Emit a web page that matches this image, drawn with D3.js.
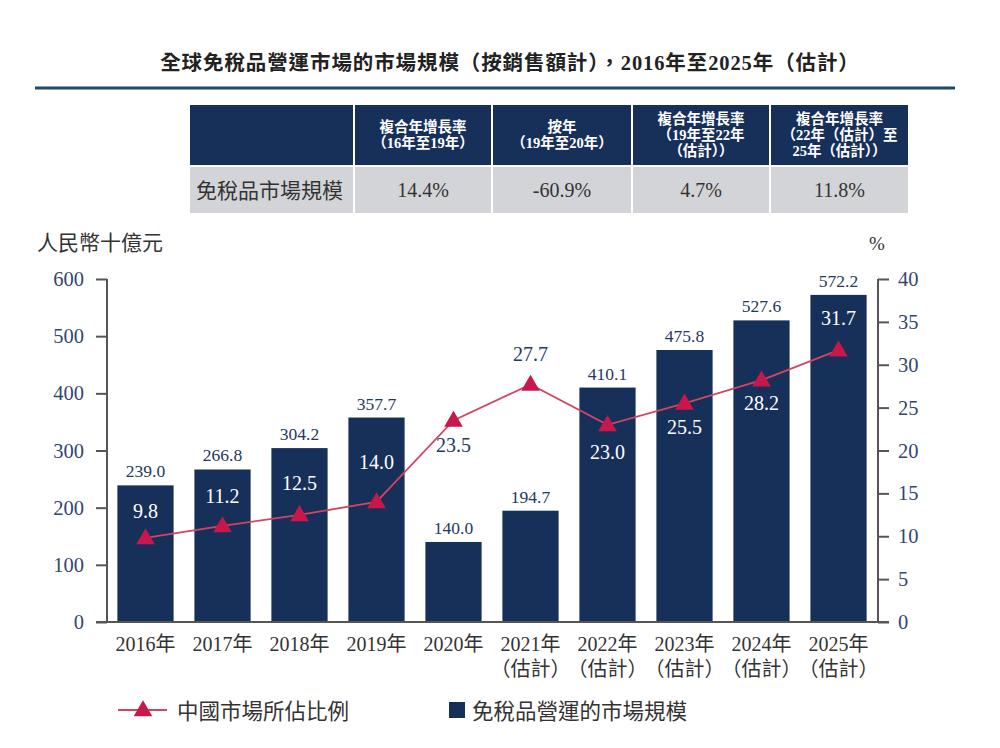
<!DOCTYPE html>
<html><head><meta charset="utf-8">
<script src="https://cdn.jsdelivr.net/npm/d3@7"></script>
<style>
body{margin:0;background:#fff;}
svg{display:block;}
</style></head>
<body>
<svg id="chart" width="1000" height="748"></svg>
<script>
const title = "全球免稅品營運市場的市場規模（按銷售額計），2016年至2025年（估計）";
const years = ["2016年","2017年","2018年","2019年","2020年","2021年","2022年","2023年","2024年","2025年"];
const yearSub = ["","","","","","（估計）","（估計）","（估計）","（估計）","（估計）"];
const marketSize = [239.0,266.8,304.2,357.7,140.0,194.7,410.1,475.8,527.6,572.2];
const chinaShare = [9.8,11.2,12.5,14.0,23.5,27.7,23.0,25.5,28.2,31.7];
const leftTicks = [0,100,200,300,400,500,600];
const rightTicks = [0,5,10,15,20,25,30,35,40];
const tableHeaders = [["複合年增長率","（16年至19年）"],["按年","（19年至20年）"],["複合年增長率","（19年至22年","（估計））"],["複合年增長率","（22年（估計）至","25年（估計））"]];
const tableRowLabel = "免稅品市場規模";
const tableValues = ["14.4%","-60.9%","4.7%","11.8%"];
const leftUnit = "人民幣十億元";
const rightUnit = "%";
const legendLine = "中國市場所佔比例";
const legendBar = "免稅品營運的市場規模";

// layout config (not data): vertical offset of each share label from its marker
const labelOffset = [-27,-30,-32,-40,25,-30,27,24,23,-32];

const NAVY = "#17305a", SERIF = "'Liberation Serif','Times New Roman',serif";
const FONT = "'Liberation Serif','Noto Sans CJK TC',serif";
const svg = d3.select("#chart");

// title
svg.append("text").attr("x",510).attr("y",70).attr("text-anchor","middle")
  .attr("font-family",FONT).attr("font-weight","bold").attr("font-size",20.5).attr("letter-spacing",0.9)
  .attr("fill","#222").text(title);
svg.append("line").attr("x1",35).attr("x2",955).attr("y1",88).attr("y2",88).attr("stroke","#1f4a6a").attr("stroke-width",3);

// table
const colX = [190,355,493,633,771,910];
const gap = 2;
svg.append("rect").attr("x",colX[0]).attr("y",105).attr("width",colX[1]-colX[0]-gap).attr("height",60).attr("fill",NAVY);
tableHeaders.forEach((h,i)=>{
  const x0 = colX[i+1], x1 = colX[i+2]-gap;
  svg.append("rect").attr("x",x0).attr("y",105).attr("width",x1-x0).attr("height",60).attr("fill",NAVY);
  const cy = 135, lh = 16;
  h.forEach((t,j)=>{
    svg.append("text").attr("x",(x0+x1)/2).attr("y",cy+(j-(h.length-1)/2)*lh+5)
      .attr("text-anchor","middle").attr("font-family",FONT).attr("font-weight","bold")
      .attr("font-size",14.5).attr("fill","#fff").text(t);
  });
});
for(let i=0;i<5;i++){
  svg.append("rect").attr("x",colX[i]).attr("y",167).attr("width",colX[i+1]-colX[i]-gap).attr("height",46).attr("fill","#d3d4d8");
}
svg.append("text").attr("x",196).attr("y",198).attr("font-family",FONT).attr("font-size",21).attr("fill","#333").text(tableRowLabel);
tableValues.forEach((v,i)=>{
  svg.append("text").attr("x",(colX[i+1]+colX[i+2]-gap)/2).attr("y",197).attr("text-anchor","middle")
    .attr("font-family",SERIF).attr("font-size",20).attr("fill","#333").text(v);
});

// scales
const x = d3.scaleBand().domain(years).range([107,877]).paddingInner(0.27).paddingOuter(0.135);
const yL = d3.scaleLinear().domain([0,600]).range([622,279]);
const yR = d3.scaleLinear().domain([0,40]).range([622,279]);

// bars
svg.append("g").selectAll("rect").data(marketSize).join("rect")
  .attr("x",(d,i)=>x(years[i])).attr("y",d=>yL(d)).attr("width",x.bandwidth()).attr("height",d=>622-yL(d)).attr("fill",NAVY);
svg.append("g").selectAll("text").data(marketSize).join("text")
  .attr("x",(d,i)=>x(years[i])+x.bandwidth()/2).attr("y",d=>yL(d)-8).attr("text-anchor","middle")
  .attr("font-family",SERIF).attr("font-size",17.5).attr("fill","#24385e").text(d=>d.toFixed(1));

// axes
const axisColor = "#555";
const gL = svg.append("g").attr("transform","translate(107,0)")
  .call(d3.axisLeft(yL).tickValues(leftTicks).tickSize(11).tickPadding(12));
const gR = svg.append("g").attr("transform","translate(878,0)")
  .call(d3.axisRight(yR).tickValues(rightTicks).tickSize(11).tickPadding(9));
[gL,gR].forEach(g=>{
  g.select(".domain").attr("stroke",axisColor).attr("stroke-width",2);
  g.selectAll(".tick line").attr("stroke",axisColor).attr("stroke-width",2);
  g.selectAll(".tick text").attr("font-family",SERIF).attr("font-size",20.5).attr("fill","#34466e");
});
gL.select(".domain").attr("d","M0,622V279");
gR.select(".domain").attr("d","M0,622V279");
svg.append("line").attr("x1",96).attr("x2",889).attr("y1",622).attr("y2",622).attr("stroke",axisColor).attr("stroke-width",2);

// x labels
years.forEach((y,i)=>{
  const cx = x(y)+x.bandwidth()/2;
  svg.append("text").attr("x",cx).attr("y",651).attr("text-anchor","middle")
    .attr("font-family",FONT).attr("font-size",20).attr("fill","#333").text(y);
  if(yearSub[i]) svg.append("text").attr("x",cx).attr("y",676).attr("text-anchor","middle")
    .attr("font-family",FONT).attr("font-size",20).attr("fill","#333").text(yearSub[i]);
});

// units
svg.append("text").attr("x",37).attr("y",250).attr("font-family",FONT).attr("font-size",21).attr("fill","#333").text(leftUnit);
svg.append("text").attr("x",869).attr("y",250).attr("font-family",SERIF).attr("font-size",19).attr("fill","#333").text(rightUnit);

// line
const lineColor = "#d24562", markColor = "#c8174a";
const line = d3.line().x((d,i)=>x(years[i])+x.bandwidth()/2).y(d=>yR(d));
svg.append("path").datum(chinaShare).attr("d",line).attr("fill","none").attr("stroke",lineColor).attr("stroke-width",1.8);
const tri = d3.symbol().type(d3.symbolTriangle).size(150);
svg.append("g").selectAll("path").data(chinaShare).join("path")
  .attr("d",tri).attr("transform",(d,i)=>`translate(${x(years[i])+x.bandwidth()/2},${yR(d)+1})`).attr("fill",markColor);
svg.append("g").selectAll("text").data(chinaShare).join("text")
  .attr("x",(d,i)=>x(years[i])+x.bandwidth()/2)
  .attr("y",(d,i)=>yR(d)+labelOffset[i]+7)
  .attr("text-anchor","middle").attr("font-family",SERIF).attr("font-size",20)
  .attr("fill",(d,i)=> yR(d)+labelOffset[i]-8 > yL(marketSize[i]) ? "#fff" : "#24385e")
  .text(d=>d.toFixed(1));

// legend
svg.append("line").attr("x1",118).attr("x2",167).attr("y1",710).attr("y2",710).attr("stroke",lineColor).attr("stroke-width",1.8);
svg.append("path").attr("d",tri).attr("transform","translate(143,711)").attr("fill",markColor);
svg.append("text").attr("x",177).attr("y",719).attr("font-family",FONT).attr("font-size",21.5).attr("fill","#333").text(legendLine);
svg.append("rect").attr("x",449).attr("y",702).attr("width",16).attr("height",16).attr("fill",NAVY);
svg.append("text").attr("x",472).attr("y",719).attr("font-family",FONT).attr("font-size",21.5).attr("fill","#333").text(legendBar);
</script>
</body></html>
